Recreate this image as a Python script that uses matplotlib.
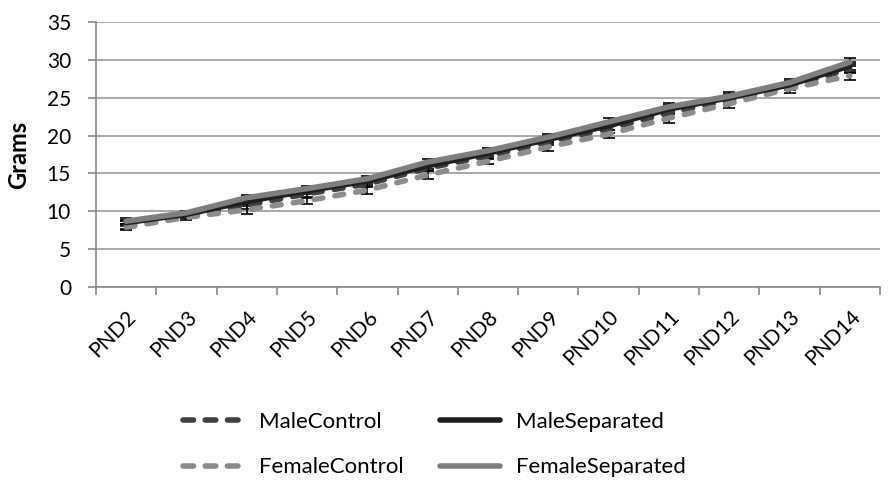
import numpy as np
import matplotlib
matplotlib.use('Agg')
import matplotlib.pyplot as plt
import matplotlib.transforms as mtransforms
from matplotlib.lines import Line2D

plt.rcParams['font.family']=['Lato','DejaVu Sans']

days=['PND2','PND3','PND4','PND5','PND6','PND7','PND8','PND9','PND10','PND11','PND12','PND13','PND14']
male_control=[8.2,9.4,10.8,12.3,13.6,15.7,17.3,19.2,20.9,23.0,24.7,26.5,28.8]
male_control_err=[0.5,0.3,0.5,0.4,0.4,0.4,0.4,0.4,0.5,0.5,0.5,0.5,0.6]
male_sep=[8.5,9.6,11.3,12.7,14.0,16.0,17.7,19.5,21.3,23.5,25.0,26.7,29.2]
male_sep_err=[0.4,0.3,0.4,0.4,0.4,0.4,0.4,0.4,0.5,0.5,0.5,0.5,0.5]
female_control=[7.9,9.2,10.2,11.4,12.8,14.8,16.6,18.5,20.2,22.3,24.2,26.2,27.9]
female_control_err=[0.4,0.3,0.5,0.4,0.5,0.5,0.4,0.5,0.5,0.6,0.5,0.6,0.5]
female_sep=[8.7,9.8,11.8,13.0,14.3,16.5,18.0,19.8,21.8,23.8,25.2,27.0,29.7]
female_sep_err=[0.4,0.3,0.4,0.4,0.4,0.4,0.4,0.4,0.5,0.5,0.5,0.5,0.5]

fig=plt.figure(figsize=(8.92,4.83),dpi=100)
ax=fig.add_axes([96/892,1-287/483,(880-96)/892,(287-22)/483])
x=np.arange(len(days))

dash=(0,(1.6,2.2))
series=[
    (male_control,male_control_err,'#404040',dash,'MaleControl'),
    (female_control,female_control_err,'#8c8c8c',dash,'FemaleControl'),
    (male_sep,male_sep_err,'#1f1f1f','-','MaleSeparated'),
    (female_sep,female_sep_err,'#7f7f7f','-','FemaleSeparated'),
]
for vals,err,col,ls,lab in series:
    ax.errorbar(x,vals,yerr=err,color='black',fmt='none',elinewidth=1.2,capsize=4,capthick=1.2,zorder=2)
for vals,err,col,ls,lab in series:
    ax.plot(x,vals,color=col,linestyle=ls,linewidth=4,zorder=3,solid_capstyle='round',dash_capstyle='round')

ax.set_xlim(-0.5,len(days)-0.5)
ax.set_ylim(0,35)
ax.set_yticks(np.arange(0,36,5))
ax.set_xticks(x)
ax.set_xticklabels(days,rotation=45,ha='right',va='top',rotation_mode='anchor',fontsize=15)
off=mtransforms.ScaledTranslation(12/100,0,fig.dpi_scale_trans)
for lbl in ax.get_xticklabels():
    lbl.set_transform(lbl.get_transform()+off)
ax.set_xticks(np.arange(-0.5,len(days),1),minor=True)
ax.tick_params(axis='x',which='major',length=0,pad=14)
ax.tick_params(axis='x',which='minor',length=6,color='#878787',width=1.2)
ax.tick_params(axis='y',length=6,color='#878787',width=1.2,labelsize=15,direction='out',pad=12)
ax.grid(axis='y',color='#999999',linewidth=1.2)
ax.set_axisbelow(True)
for s in ['top','right']:
    ax.spines[s].set_visible(False)
ax.spines['left'].set_color('#878787')
ax.spines['bottom'].set_color('#878787')
ax.spines['left'].set_linewidth(1.2)
ax.spines['bottom'].set_linewidth(1.2)
ax.set_ylabel('Grams',fontsize=17,fontweight='bold')
ax.yaxis.set_label_coords(-(96-30)/784,0.5)

leg_dash=(0,(1.9,2.1))
handles=[Line2D([0],[0],color=c,linestyle=(leg_dash if ls!='-' else ls),linewidth=4,
                dash_capstyle='round',solid_capstyle='round') for _,_,c,ls,_ in series]
labels=[s[4] for s in series]
fig.legend(handles,labels,loc='lower center',bbox_to_anchor=(0.487,-0.03),ncol=2,frameon=False,
           fontsize=16,handlelength=2.7,columnspacing=1.6,labelspacing=1.15,handletextpad=0.75)

fig.savefig('out.png',dpi=100)
